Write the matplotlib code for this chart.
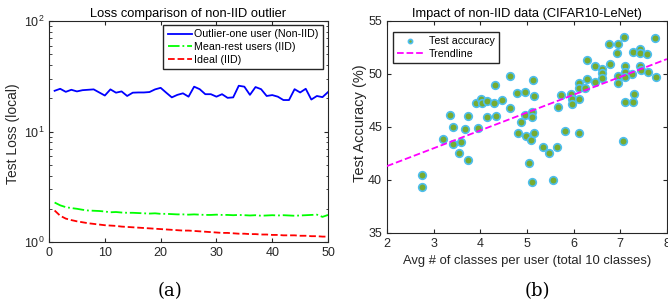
import matplotlib
matplotlib.use("Agg")
import matplotlib.pyplot as plt
import numpy as np

plt.rcParams["font.family"] = ["Liberation Sans", "DejaVu Sans"]

# ---- (a) loss per round ----
rounds = np.arange(1, 51)
loss_outlier = [23.4, 24.4, 22.9, 23.9, 23.1, 23.7, 23.9, 24.1, 22.6, 21.2,
                24.1, 22.5, 23.1, 21.0, 22.5, 22.6, 22.6, 22.8, 24.1, 24.9,
                22.5, 20.4, 21.5, 22.2, 20.7, 25.5, 24.2, 21.8, 21.8, 20.7,
                21.8, 20.2, 20.4, 26.0, 25.5, 21.5, 25.3, 24.2, 21.0, 21.4,
                20.7, 19.3, 19.3, 24.2, 22.6, 24.4, 19.5, 21.0, 20.5, 22.8]
loss_mean_rest = [2.28, 2.15, 2.07, 2.03, 2.00, 1.96, 1.93, 1.92, 1.91, 1.89,
                  1.86, 1.87, 1.85, 1.84, 1.84, 1.83, 1.82, 1.81, 1.82, 1.80,
                  1.80, 1.79, 1.78, 1.78, 1.77, 1.78, 1.77, 1.76, 1.76, 1.77,
                  1.76, 1.76, 1.75, 1.76, 1.75, 1.74, 1.75, 1.73, 1.74, 1.75,
                  1.74, 1.75, 1.74, 1.73, 1.74, 1.75, 1.76, 1.77, 1.69, 1.76]
loss_ideal = [1.93, 1.73, 1.63, 1.58, 1.54, 1.51, 1.48, 1.46, 1.44, 1.42,
              1.41, 1.40, 1.38, 1.37, 1.36, 1.35, 1.34, 1.33, 1.32, 1.31,
              1.30, 1.29, 1.28, 1.27, 1.27, 1.26, 1.25, 1.24, 1.23, 1.22,
              1.21, 1.21, 1.20, 1.19, 1.19, 1.18, 1.18, 1.17, 1.17, 1.16,
              1.16, 1.15, 1.15, 1.15, 1.14, 1.14, 1.13, 1.13, 1.12, 1.12]

# ---- (b) accuracy vs avg classes per user ----
avg_classes = [2.75, 2.75, 3.21, 3.36, 3.41, 3.41, 3.54, 3.59, 3.68, 3.73,
               3.73, 3.90, 3.94, 4.02, 4.03, 4.14, 4.15, 4.29, 4.33, 4.32,
               4.47, 4.63, 4.64, 4.79, 4.80, 4.87, 4.96, 4.96, 4.97, 5.05,
               5.09, 5.10, 5.11, 5.12, 5.11, 5.16, 5.16, 5.34, 5.48, 5.56,
               5.64, 5.66, 5.73, 5.81, 5.94, 5.96, 5.96, 6.11, 6.11, 6.11,
               6.12, 6.24, 6.29, 6.29, 6.45, 6.45, 6.61, 6.61, 6.61, 6.76,
               6.77, 6.95, 6.93, 6.94, 6.95, 7.08, 7.06, 7.11, 7.09, 7.11,
               7.11, 7.27, 7.25, 7.29, 7.27, 7.43, 7.43, 7.43, 7.44, 7.57,
               7.59, 7.74, 7.76]
test_acc = [40.47, 39.31, 43.90, 46.13, 45.03, 43.40, 42.58, 43.58, 44.84, 46.00,
            41.89, 47.23, 44.87, 47.67, 47.30, 47.48, 45.94, 47.23, 46.04, 48.93,
            47.58, 49.81, 46.79, 48.21, 44.47, 45.44, 48.30, 46.16, 44.12, 41.64,
            43.74, 46.38, 45.91, 49.40, 39.84, 47.92, 44.47, 43.08, 42.58, 40.00,
            43.14, 46.86, 48.02, 44.65, 48.11, 47.61, 47.17, 49.12, 47.61, 44.40,
            48.65, 48.65, 49.50, 51.32, 50.75, 49.28, 50.44, 50.13, 49.59, 52.80,
            50.91, 52.80, 51.95, 49.84, 49.18, 53.46, 43.71, 50.75, 50.22, 49.75,
            47.33, 52.10, 49.97, 48.11, 47.33, 52.33, 51.98, 50.79, 50.38, 51.86,
            50.22, 53.43, 49.69]

axis_gray = "#262626"

fig = plt.figure(figsize=(6.68, 3.06), dpi=100)

# left panel
ax1 = fig.add_axes([0.0734, 0.209, 0.4177, 0.722])
ax1.semilogy(rounds, loss_outlier, color="#0000ff", lw=1.3, label="Outlier-one user (Non-IID)")
ax1.semilogy(rounds, loss_mean_rest, color="#00ff00", lw=1.3, ls="-.", label="Mean-rest users (IID)")
ax1.semilogy(rounds, loss_ideal, color="#ff0000", lw=1.3, ls="--", label="Ideal (IID)")
ax1.set_xlim(0, 50)
ax1.set_ylim(1, 100)
ax1.set_xticks(range(0, 51, 10))
ax1.set_ylabel("Test Loss (local)", fontsize=10, color=axis_gray)
ax1.yaxis.set_label_coords(-0.104, 0.49)
ax1.set_title("Loss comparison of non-IID outlier", fontsize=9.3, pad=3)
ax1.legend(loc="upper right", bbox_to_anchor=(0.982, 0.982), borderaxespad=0,
           fontsize=7.7, fancybox=False, edgecolor=axis_gray, framealpha=1,
           handlelength=2.3, handletextpad=0.2, labelspacing=0.25, borderpad=0.4)

# right panel
ax2 = fig.add_axes([0.5793, 0.2386, 0.4192, 0.6928])
ax2.scatter(avg_classes, test_acc, s=30, facecolor="#77ac30", edgecolor="#4dbeee",
            linewidth=1.2, label="Test accuracy", zorder=3)
coef = np.polyfit(avg_classes, test_acc, 1)
xs = np.array([2, 8])
ax2.plot(xs, np.polyval(coef, xs), color="#ff00ff", ls="--", lw=1.3, label="Trendline", zorder=4)
ax2.set_xlim(2, 8)
ax2.set_ylim(35, 55)
ax2.set_xticks(range(2, 9))
ax2.set_yticks(range(35, 56, 5))
ax2.set_xlabel("Avg # of classes per user (total 10 classes)", fontsize=9.4, color=axis_gray)
ax2.set_ylabel("Test Accuracy (%)", fontsize=10.5, color=axis_gray)
ax2.yaxis.set_label_coords(-0.071, 0.52)
ax2.set_title("Impact of non-IID data (CIFAR10-LeNet)", fontsize=9.3, pad=3)
ax2.legend(loc="upper left", bbox_to_anchor=(0.021, 0.948), borderaxespad=0,
           fontsize=7.7, fancybox=False, edgecolor=axis_gray, framealpha=1,
           handlelength=2.4, handletextpad=0.6, labelspacing=0.25, borderpad=0.4,
           markerscale=0.55)

for ax in (ax1, ax2):
    ax.tick_params(which="both", direction="in", top=True, right=True,
                   labelsize=9, colors=axis_gray, length=3)
    ax.tick_params(which="minor", length=1.8)
    for sp in ax.spines.values():
        sp.set_color(axis_gray)
        sp.set_linewidth(0.8)

fig.text(170 / 668, 1 - 291 / 306, "(a)", family=["DejaVu Serif"],
         fontsize=13, ha="center", va="center")
fig.text(537 / 668, 1 - 291 / 306, "(b)", family=["DejaVu Serif"],
         fontsize=13, ha="center", va="center")

fig.savefig("out.png", dpi=100)
